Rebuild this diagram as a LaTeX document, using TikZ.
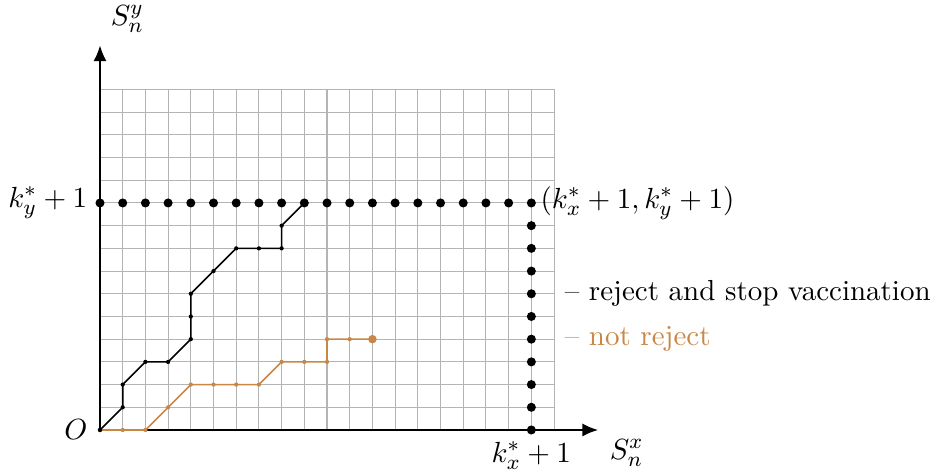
\documentclass[tikz,border=0pt]{standalone}
\usetikzlibrary{arrows.meta}
\definecolor{pathorange}{RGB}{200,135,70}
\definecolor{gridgray}{RGB}{180,180,180}
\begin{document}
\begin{tikzpicture}[x=0.3cm,y=0.3cm,
  axisline/.style={line width=0.9pt,-{Latex[length=6pt,width=5pt]}},
  gridline/.style={gridgray,line width=0.4pt},
  bigdot/.style={circle,fill=black,inner sep=0pt,minimum size=3.4pt},
  smalldot/.style={circle,fill=#1,inner sep=0pt,minimum size=1.6pt},
  blackpath/.style={line width=0.6pt,black},
  orangepath/.style={line width=0.6pt,pathorange},
  txt/.style={font=\fontsize{10.9pt}{13pt}\selectfont},
  lbl/.style={txt,inner sep=3.3pt}]
\useasboundingbox (-4.405,-1.85) rectangle (36.78,18.94);
\foreach \gx in {1,...,20} \draw[gridline] (\gx,0) -- (\gx,15);
\foreach \gy in {1,...,15} \draw[gridline] (0,\gy) -- (20,\gy);
\coordinate (O) at (0,0);
\coordinate (xend) at (21.95,0);
\coordinate (yend) at (0,16.95);
\draw[axisline] (O) -- (xend);
\draw[axisline] (O) -- (yend);
% black path
\foreach \px/\py [count=\i] in {0/0,1/1,1/2,2/3,3/3,4/4,4/5,4/6,5/7,6/8,7/8,8/8,8/9,9/10}
  \coordinate (b\i) at (\px,\py);
\draw[blackpath] (b1) -- (b2) -- (b3) -- (b4) -- (b5) -- (b6) -- (b7) -- (b8) -- (b9) -- (b10) -- (b11) -- (b12) -- (b13) -- (b14);
\foreach \i in {1,...,13} \node[smalldot=black] at (b\i) {};
% orange path
\foreach \px/\py [count=\i] in {0/0,1/0,2/0,3/1,4/2,5/2,6/2,7/2,8/3,9/3,10/3,10/4,11/4,12/4}
  \coordinate (o\i) at (\px,\py);
\draw[orangepath] (o1) -- (o2) -- (o3) -- (o4) -- (o5) -- (o6) -- (o7) -- (o8) -- (o9) -- (o10) -- (o11) -- (o12) -- (o13) -- (o14);
\foreach \i in {2,...,13} \node[smalldot=pathorange] at (o\i) {};
\node[circle,fill=pathorange,inner sep=0pt,minimum size=3.2pt] (oend) at (o14) {};
\node[smalldot=black] at (b1) {};
% boundary dots
\foreach \x in {0,...,19} \node[bigdot] (t\x) at (\x,10) {};
\foreach \y in {0,...,9} \node[bigdot] (r\y) at (19,\y) {};
% labels
\node[lbl,anchor=east] (olab) at (-0.15,0) {$O$};
\node[lbl,anchor=east] (kylab) at (-0.15,10) {$k_y^*+1$};
\node[lbl,anchor=north] (kxlab) at (19,-0.1) {$k_x^*+1$};
\node[lbl,anchor=west] (cornerlab) at (19,10) {$(k_x^*+1,k_y^*+1)$};
\node[txt] (sx) at (23.2,-1) {$S_n^x$};
\node[txt] (sy) at (1.2,18.1) {$S_n^y$};
\node[txt,anchor=west,inner sep=0pt] (leg1) at (20.45,6) {-- reject and stop vaccination};
\node[txt,anchor=west,inner sep=0pt,text=pathorange] (leg2) at (20.45,4) {-- not reject};
\end{tikzpicture}
\end{document}
